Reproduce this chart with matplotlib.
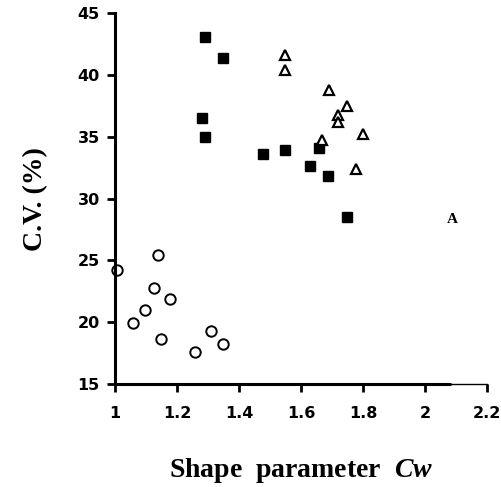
import matplotlib.pyplot as plt

plt.rcParams["mathtext.fontset"] = "custom"
plt.rcParams["mathtext.it"] = "Liberation Serif:italic:bold"

# group 1: filled squares
sq_x = [1.289, 1.349, 1.280, 1.289, 1.478, 1.549, 1.658, 1.628, 1.686, 1.747]
sq_y = [43.1, 41.4, 36.5, 35.0, 33.6, 33.9, 34.1, 32.6, 31.8, 28.5]

# group 2: open triangles
tri_x = [1.549, 1.549, 1.690, 1.748, 1.718, 1.718, 1.799, 1.669, 1.777]
tri_y = [41.6, 40.4, 38.8, 37.5, 36.8, 36.2, 35.2, 34.7, 32.4]

# group 3: open circles
circ_x = [1.007, 1.138, 1.127, 1.178, 1.098, 1.057, 1.148, 1.309, 1.349, 1.259]
circ_y = [24.2, 25.4, 22.8, 21.9, 21.0, 19.9, 18.6, 19.3, 18.2, 17.6]

xticks = [1, 1.2, 1.4, 1.6, 1.8, 2, 2.2]
xtick_labels = ["1", "1.2", "1.4", "1.6", "1.8", "2", "2.2"]
yticks = [15, 20, 25, 30, 35, 40, 45]

fig = plt.figure(figsize=(5.02, 4.87), dpi=100)
ax = fig.add_axes([0.229, 0.2115, 0.741, 0.7615])

ax.plot(sq_x, sq_y, "s", color="black", markersize=6.5, clip_on=False)
ax.plot(tri_x, tri_y, "^", mfc="white", mec="black", mew=1.6, markersize=7.5, clip_on=False)
ax.plot(circ_x, circ_y, "o", mfc="white", mec="black", mew=1.4, markersize=7.5, clip_on=False)

ax.text(2.089, 28.3, "A", family="Liberation Serif", weight="bold", fontsize=11,
        ha="center", va="center")

ax.set_xlim(1, 2.2)
ax.set_ylim(15, 45)
ax.set_xticks(xticks)
ax.set_xticklabels(xtick_labels)
ax.set_yticks(yticks)

for side in ["top", "right"]:
    ax.spines[side].set_visible(False)
ax.spines["left"].set_linewidth(2.2)
ax.spines["bottom"].set_linewidth(1.0)
# the thick part of the baseline stops short of 2.2
ax.plot([1, 2.085], [15, 15], color="black", lw=2.2, clip_on=False, solid_capstyle="butt")

ax.tick_params(axis="both", direction="out", width=2, length=6)
ax.tick_params(axis="y", pad=5)
ax.tick_params(axis="x", pad=10)
for lab in ax.get_xticklabels() + ax.get_yticklabels():
    lab.set_family("DejaVu Sans")
    lab.set_weight("bold")
    lab.set_fontsize(11.5)

ax.set_ylabel("C.V. (%)", family="Liberation Serif", weight="bold", fontsize=20, labelpad=21)
ax.set_xlabel(r"Shape  parameter  $\mathit{Cw}$", family="Liberation Serif",
              weight="bold", fontsize=20, labelpad=25)

fig.savefig("out.png", dpi=100)
